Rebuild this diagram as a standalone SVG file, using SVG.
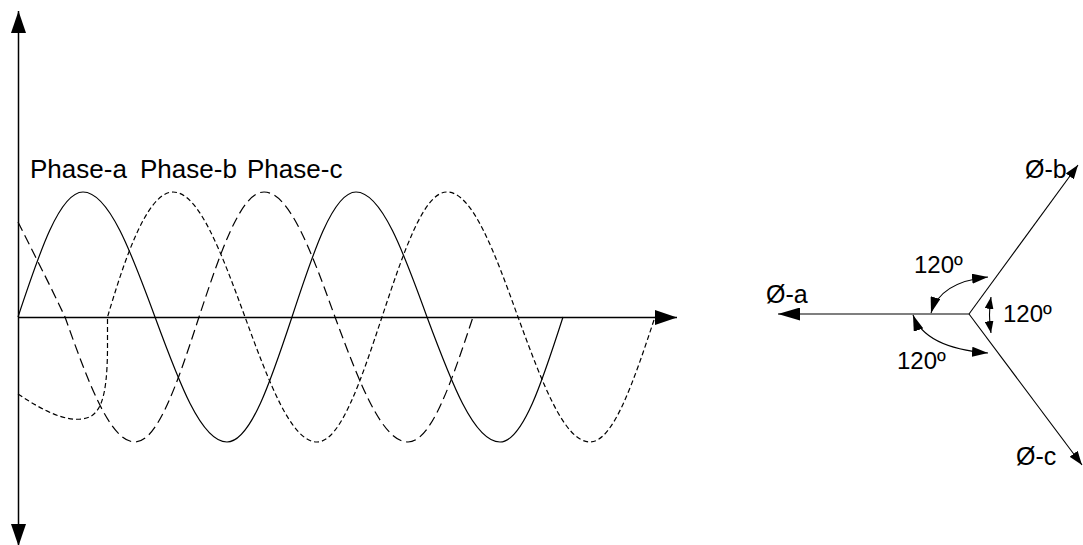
<svg xmlns="http://www.w3.org/2000/svg" width="1083" height="545" viewBox="0 0 1083 545">
<style>
text{font-family:"Liberation Sans",Arial,sans-serif;fill:#000}
.lbl{font-size:26px}
.ph{font-size:25px}
.ang{font-size:24px}
.axis{stroke:#000;stroke-width:1.5;fill:none}
.wave{stroke:#000;stroke-width:1.2;fill:none}
.wa{}
.wb{stroke-dasharray:5 3}
.wc{stroke-dasharray:10 5}
.vec{stroke:#000;stroke-width:1.1;fill:none}
</style>
<defs>
<marker id="mAxis" markerUnits="userSpaceOnUse" markerWidth="22" markerHeight="15" refX="22" refY="7.5" orient="auto-start-reverse"><path d="M0,0 L22,7.5 L0,15 Z" fill="#000"/></marker>
<marker id="mA" markerUnits="userSpaceOnUse" markerWidth="22" markerHeight="13" refX="22" refY="6.5" orient="auto"><path d="M0,0 L22,6.5 L0,13 Z" fill="#000"/></marker>
<marker id="mV" markerUnits="userSpaceOnUse" markerWidth="14" markerHeight="10" refX="14" refY="5" orient="auto"><path d="M0,0 L14,5 L0,10 Z" fill="#000"/></marker>
<marker id="mArc" markerUnits="userSpaceOnUse" markerWidth="16" markerHeight="10" refX="16" refY="5" orient="auto-start-reverse"><path d="M0,0 L16,5 L0,10 Z" fill="#000"/></marker>
<marker id="mSm" markerUnits="userSpaceOnUse" markerWidth="12" markerHeight="9" refX="12" refY="4.5" orient="auto-start-reverse"><path d="M0,0 L12,4.5 L0,9 Z" fill="#000"/></marker>
</defs>

<g id="axes">
<line class="axis" x1="18.5" y1="11" x2="18.5" y2="546" marker-start="url(#mAxis)" marker-end="url(#mAxis)"/>
<line class="axis" x1="18" y1="317.5" x2="677" y2="317.5" marker-end="url(#mAxis)"/>
</g>

<g id="waves">
<path id="phase-a" class="wave wa" d="M18,317 C39.2,253 59.6,192 83,192 C108.9,192 131.5,253 155,317 C178.5,381 201,442 227,442 C250.4,442 270.8,381 292,317 C312.9,253 333,192 356,192 C381.6,192 403.9,253 427,317 C450.8,381 473.7,442 500,442 C522.7,442 542.5,381 563,317"/>
<path id="phase-b" class="wave wb" d="M18,394 C45,412 65,421 82,419 C100,417 107,400 107.5,350 L107.5,317 C121,272 145,192 173,192 C199,192 221.5,253 245,317 C268.5,381 291,442 317,442 C340.4,442 360.8,381 382,317 C403.2,253 423.6,192 447,192 C472.6,192 494.9,253 518,317 C541.5,381 564,442 590,442 C613.4,442 633.8,381 655,317"/>
<path id="phase-c" class="wave wc" d="M18,222 C33,252 50,285 65,317 C87.8,381 109.8,442 135,442 C158,442 178.1,381 199,317 C220.2,253 240.6,192 264,192 C289.6,192 311.9,253 335,317 C358.8,381 381.7,442 408,442 C431.4,442 451.8,381 473,317"/>
</g>

<g id="wave-labels">
<text class="lbl" x="30" y="178">Phase-a</text>
<text class="lbl" x="140" y="178">Phase-b</text>
<text class="lbl" x="247" y="178">Phase-c</text>
</g>

<g id="phasors">
<line class="vec" x1="969" y1="314" x2="778" y2="314" marker-end="url(#mA)"/>
<line class="vec" x1="969" y1="314" x2="1078" y2="165" marker-end="url(#mV)"/>
<line class="vec" x1="969" y1="314" x2="1082" y2="465" marker-end="url(#mV)"/>
</g>

<g id="angle-arcs">
<path class="vec" d="M931,313 Q940,282 988,277" marker-start="url(#mArc)" marker-end="url(#mArc)"/>
<path class="vec" d="M913,315 Q925,348 988,353" marker-start="url(#mArc)" marker-end="url(#mArc)"/>
<path class="vec" d="M991,297 Q988,315 991,333" marker-start="url(#mSm)" marker-end="url(#mSm)"/>
</g>

<g id="phasor-labels">
<text class="ph" x="766" y="303">Ø-a</text>
<text class="ph" x="1025" y="178">Ø-b</text>
<text class="ph" x="1016" y="465">Ø-c</text>
<text class="ang" x="914" y="273">120º</text>
<text class="ang" x="1003" y="322">120º</text>
<text class="ang" x="897" y="369">120º</text>
</g>
</svg>
